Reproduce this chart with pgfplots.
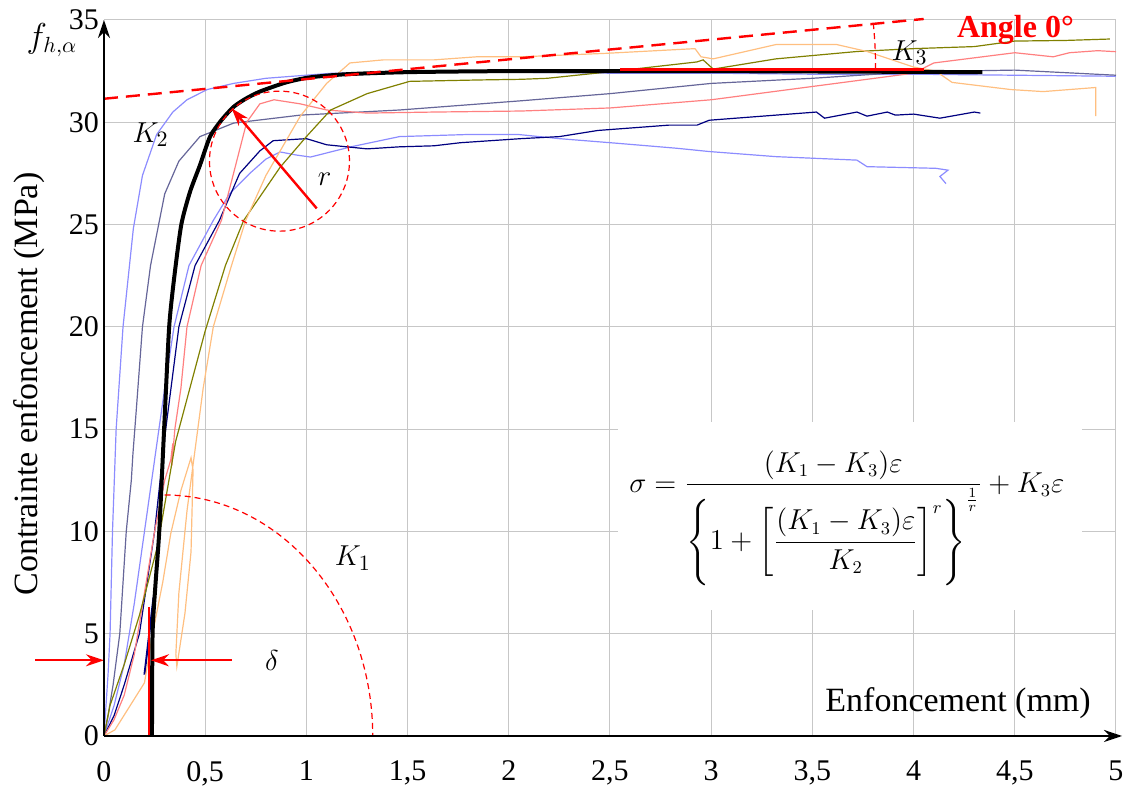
\documentclass[border=0pt]{standalone}
\usepackage{fontspec}
\setmainfont{Liberation Serif}
\usepackage{amsmath}
\usepackage{pgfplots}
\pgfplotsset{compat=1.18}
\usetikzlibrary{arrows.meta}
\definecolor{lblue}{HTML}{8C8CFF}
\definecolor{slate}{HTML}{666699}
\definecolor{navy}{HTML}{000080}
\definecolor{pinkc}{HTML}{FF8080}
\definecolor{olive}{HTML}{808000}
\definecolor{peach}{HTML}{FFBF80}
\begin{document}
\begin{tikzpicture}
\useasboundingbox (-52pt,-29.5pt) rectangle (514pt,368pt);
\begin{axis}[
  at={(0,0)}, anchor=south west,
  scale only axis, width=506pt, height=358pt,
  xmin=0, xmax=5, ymin=0, ymax=35,
  axis line style={draw=none},
  xtick={0,0.5,1,1.5,2,2.5,3,3.5,4,4.5,5},
  ytick={0,5,10,15,20,25,30,35},
  major tick length=0pt,
  grid=major, grid style={line width=0.5pt, color=black!22},
  tick label style={font=\fontsize{15}{17}\selectfont},
  /pgf/number format/use comma,
  /pgf/number format/assume math mode=true,
  xticklabel style={yshift=-9pt},
  yticklabel style={xshift=1pt},
  clip=false,
]
% K2 light blue
\addplot[lblue, line width=0.6pt] table {
0 0
0.01 1.5
0.02 3
0.03 5
0.042 10
0.06 15
0.094 20
0.145 24.8
0.19 27.4
0.26 29.4
0.34 30.5
0.41 31.1
0.51 31.6
0.64 31.9
0.80 32.15
1.13 32.4
1.5 32.45
2 32.45
2.5 32.4
3 32.4
3.5 32.35
4 32.35
4.5 32.3
5 32.25
};
% lower light blue
\addplot[lblue, line width=0.6pt] table {
0 0
0.05 1.5
0.1 3.5
0.15 6.5
0.2 10
0.25 13.5
0.3 17
0.346 20
0.42 23
0.54 25.2
0.62 26.5
0.72 27.5
0.80 28.2
0.87 28.55
0.95 28.4
1.02 28.3
1.22 28.8
1.46 29.3
1.79 29.4
2.05 29.4
2.25 29.2
2.54 28.97
2.83 28.73
2.99 28.57
3.32 28.32
3.72 28.15
3.77 27.83
4.11 27.75
4.17 27.66
4.13 27.35
4.16 27.0
};
% slate
\addplot[slate, line width=0.6pt] table {
0 0
0.02 1
0.045 2.5
0.078 5
0.11 10
0.135 12.5
0.143 13.8
0.16 16
0.19 20
0.23 23
0.27 25
0.30 26.5
0.37 28.1
0.474 29.3
0.64 29.96
0.97 30.35
1.46 30.6
2.06 31.05
2.5 31.4
3.0 31.9
3.5 32.15
4.0 32.47
4.5 32.55
5.0 32.3
};
% navy
\addplot[navy, line width=0.6pt] table {
0 0
0.05 1
0.1 2.5
0.175 5
0.25 10
0.305 15
0.37 20
0.45 23
0.57 25.2
0.67 27.5
0.77 28.6
0.836 29.1
1.0 29.2
1.10 28.9
1.30 28.7
1.46 28.8
1.63 28.85
1.76 29.0
2.06 29.2
2.25 29.3
2.44 29.6
2.79 29.86
2.93 29.86
2.99 30.1
3.32 30.35
3.52 30.5
3.56 30.2
3.72 30.5
3.77 30.3
3.87 30.5
3.91 30.35
4.0 30.4
4.13 30.2
4.3 30.5
4.33 30.45
};
\addplot[navy, line width=1pt] table {
0.20 3.0
0.245 6.8
};
% pink
\addplot[pinkc, line width=0.6pt] table {
0 0
0.05 0.8
0.1 2
0.15 4
0.2 7
0.25 10
0.3 12.5
0.33 13.5
0.34 14.3
0.335 13.2
0.35 15
0.38 17
0.41 20
0.48 23
0.58 25.2
0.64 27.5
0.705 30
0.77 30.9
0.84 31.1
0.97 30.9
1.10 30.6
1.30 30.45
1.63 30.5
2.06 30.55
2.5 30.7
3.0 31.1
3.5 31.75
4.0 32.4
4.1 32.9
4.5 33.4
4.69 33.2
4.77 33.4
4.91 33.5
5.0 33.45
};
% olive
\addplot[olive, line width=0.6pt] table {
0 0
0.03 1.5
0.10 3.5
0.175 5.9
0.265 9.3
0.354 14.4
0.5 19.8
0.60 23
0.69 25.2
0.87 27.8
1.0 29.3
1.12 30.6
1.30 31.4
1.51 32.0
1.86 32.07
2.06 32.1
2.19 32.15
2.5 32.47
2.93 32.95
2.96 33.05
3.01 32.6
3.32 33.1
3.72 33.46
4.0 33.6
4.3 33.7
4.5 33.97
4.75 34.0
4.97 34.07
};
% peach
\addplot[peach, line width=0.6pt] table {
0 0
0.054 0.3
0.2 2.6
0.24 5
0.29 7.5
0.33 9.9
0.38 12
0.43 13.6
0.44 13.0
0.43 9
0.40 6
0.36 3.4
0.355 4
0.37 7
0.41 11
0.45 14
0.49 17
0.54 20
0.63 23
0.70 25.2
0.80 27.4
0.97 30.3
1.10 31.9
1.215 32.9
1.38 33.05
1.63 33.05
1.84 33.2
2.06 33.2
2.48 33.37
2.92 33.6
2.95 33.2
3.01 33.1
3.32 33.8
3.62 33.8
3.77 33.46
4.0 32.7
4.11 32.5
4.19 31.95
4.48 31.6
4.64 31.5
4.90 31.7
4.90 30.3
};
% model curve (black thick)
\addplot[black, line width=2pt, smooth, tension=0.4] table {
0.237 0
0.24 5
0.255 7.5
0.273 10
0.297 15
0.322 20
0.348 22.5
0.382 25
0.425 26.6
0.474 27.9
0.524 29.3
0.58 30.1
0.64 30.75
0.70 31.15
0.77 31.5
0.90 31.95
1.02 32.2
1.2 32.35
1.5 32.45
2.0 32.5
3.0 32.5
4.34 32.45
};
% red horizontal line
\addplot[red, line width=1.5pt] table {
2.55 32.6
4.05 32.6
};
% red vertical line
\addplot[red, line width=1pt] table {
0.224 0
0.224 6.3
};
% tangent dashed
\addplot[red, line width=1.2pt, dash pattern=on 7pt off 4pt] table {
0 31.15
4.05 35.05
};
% annotations
\draw[red, line width=0.6pt, dash pattern=on 3pt off 2pt] (axis cs:0.867,28.1) circle[radius=35pt];
\draw[red, line width=0.6pt, dash pattern=on 3pt off 2pt] (axis cs:0.30,11.78) arc[start angle=90, end angle=0, x radius=104pt, y radius=120.5pt];
\draw[red, line width=0.6pt, dash pattern=on 3pt off 2pt] (axis cs:1.5,32.6) ++(0:234pt) arc[start angle=0, end angle=5.7, radius=234pt];
\draw[red, line width=1.2pt, -{Stealth[length=9pt,width=6pt]}] (axis cs:1.051,25.79) -- (axis cs:0.631,30.68);
\draw[red, line width=1pt, -{Stealth[length=9pt,width=6pt]}] (axis cs:-0.34,3.7) -- (axis cs:0,3.7);
\draw[red, line width=1pt, -{Stealth[length=9pt,width=6pt]}] (axis cs:0.632,3.7) -- (axis cs:0.232,3.7);
% axes
\draw[black, line width=1.3pt, -{Stealth[length=9pt,width=6pt]}] (axis cs:0,0) -- (axis cs:0,35);
\draw[black, line width=1.3pt, -{Stealth[length=9pt,width=6pt]}] (axis cs:0,0) -- (axis cs:5.03,0);
% labels
\node[font=\fontsize{15}{17}\selectfont] at (axis cs:0.23,29.4) {$K_2$};
\node[font=\fontsize{15}{17}\selectfont] at (axis cs:1.09,27.2) {$r$};
\node[font=\fontsize{15}{17}\selectfont] at (axis cs:0.83,3.7) {$\delta$};
\node[font=\fontsize{15}{17}\selectfont] at (axis cs:1.23,8.7) {$K_1$};
\node[font=\fontsize{15}{17}\selectfont] at (axis cs:3.98,33.4) {$K_3$};
\node[font=\bfseries\fontsize{16}{18}\selectfont, text=red, anchor=west] at (axis cs:4.18,34.5) {Angle 0°};
\node[font=\fontsize{17}{19}\selectfont, anchor=east] at (axis cs:4.91,1.6) {Enfoncement (mm)};
\node[font=\fontsize{17}{19}\selectfont, rotate=90] at (axis cs:-0.37,17.2) {Contrainte enfoncement (MPa)};
\node[font=\fontsize{16}{18}\selectfont] at (axis cs:-0.257,34.0) {$f_{h,\alpha}$};
\node[fill=white, inner sep=0pt, minimum width=232pt, minimum height=94pt] at (axis cs:3.685,10.75) {};
\node[font=\fontsize{13.5}{16}\selectfont] at (axis cs:3.67,10.55) {$\displaystyle \sigma=\frac{(K_1-K_3)\varepsilon}{\left\{\rule[-20pt]{0pt}{42pt}1+\left[\dfrac{(K_1-K_3)\varepsilon}{K_2}\right]^{r}\right\}^{\frac{1}{r}}}+K_3\varepsilon$};
\end{axis}
\end{tikzpicture}
\end{document}
